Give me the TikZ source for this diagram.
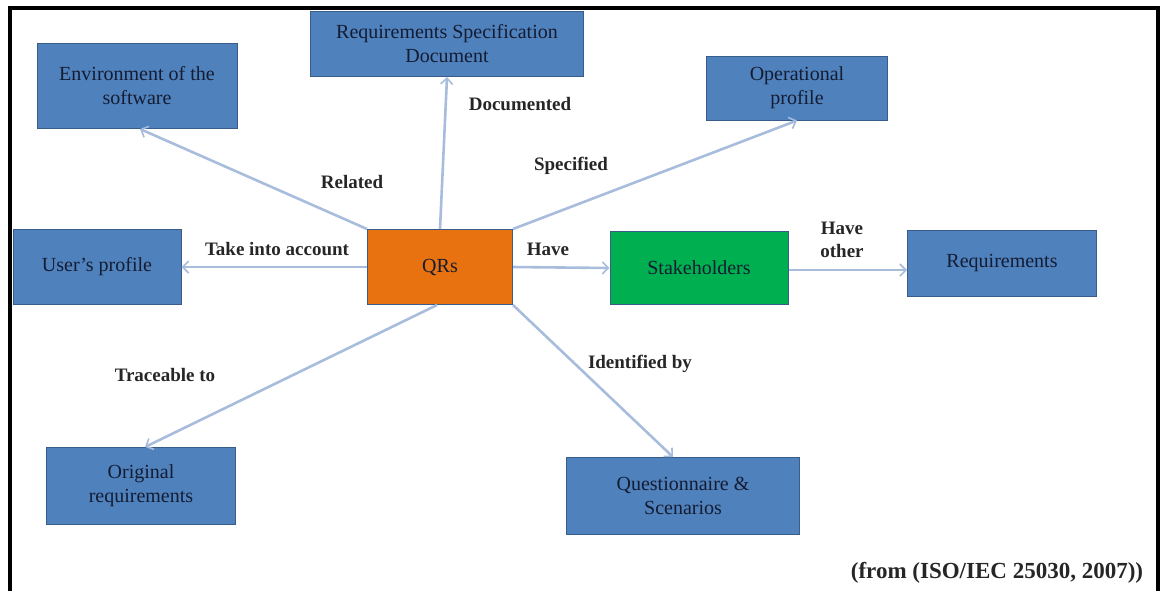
\documentclass[tikz,border=0pt]{standalone}
\usepackage{fontspec}
\setmainfont{Liberation Serif}
\usetikzlibrary{arrows.meta}
\definecolor{boxblue}{RGB}{79,129,189}
\definecolor{boxedge}{RGB}{56,93,138}
\definecolor{qrorange}{RGB}{232,113,16}
\definecolor{shgreen}{RGB}{0,176,80}
\definecolor{arrowcol}{RGB}{168,188,220}
\definecolor{boxtext}{RGB}{20,28,50}
\tikzset{
  conceptbox/.style={draw=boxedge, line width=1pt, fill=boxblue, text=boxtext,
    align=center, inner sep=2pt, font=\fontsize{20}{24}\selectfont},
  link/.style={draw=arrowcol, line width=2.6pt, -{Straight Barb[length=6pt,width=12pt,line width=1.6pt]}},
  linklabel/.style={font=\fontsize{19}{23}\selectfont\bfseries, text=black!85, align=center, inner sep=0pt},
}
\begin{document}
\begin{tikzpicture}[x=1pt,y=-1pt]
\useasboundingbox (0,0) rectangle (1167,590);
% frame
\draw[line width=4pt, black] (10,592) -- (10,8) -- (1158,8) -- (1158,592);
% nodes
\node[conceptbox, minimum width=200pt, minimum height=85pt] (env) at (137,86) {Environment of the\\software};
\node[conceptbox, minimum width=273pt, minimum height=65pt] (spec) at (447,44) {Requirements Specification\\Document};
\node[conceptbox, minimum width=181pt, minimum height=64pt] (oper) at (797,88) {Operational\\profile};
\node[conceptbox, minimum width=168pt, minimum height=75pt] (user) at (97,267) {User's profile};
\node[conceptbox, fill=qrorange, minimum width=145pt, minimum height=75pt] (qrs) at (440,267) {QRs};
\node[conceptbox, fill=shgreen, minimum width=178pt, minimum height=73pt] (stake) at (699,268) {Stakeholders};
\node[conceptbox, minimum width=189pt, minimum height=66pt] (req) at (1002,263) {Requirements};
\node[conceptbox, minimum width=189pt, minimum height=77pt] (orig) at (141,486) {Original\\requirements};
\node[conceptbox, minimum width=233pt, minimum height=77pt] (quest) at (683,496) {Questionnaire \&\\Scenarios};
% connectors
\draw[link] (qrs.north west) -- ([xshift=3pt]env.south);
\draw[link] (qrs.north) -- (spec.south);
\draw[link] (qrs.north east) -- (oper.south);
\draw[link] (qrs.west) -- (user.east);
\draw[link] (qrs.east) -- (stake.west);
\draw[link] ([yshift=-2pt]stake.east) -- ([yshift=-2pt]stake.east -| req.west);
\draw[link] ([xshift=-3pt]qrs.south) -- ([xshift=4pt]orig.north);
\draw[link] (qrs.south east) -- ([xshift=-10pt]quest.north);
% labels
\node[linklabel] (lrel) at (352,182) {Related};
\node[linklabel] (ldoc) at (520,104) {Documented};
\node[linklabel] (lspec) at (571,166) {Specified};
\node[linklabel] (ltake) at (277,249) {Take into account};
\node[linklabel] (lhave) at (548,249) {Have};
\node[linklabel] (lother) at (842,240) {Have\\other};
\node[linklabel] (ltrace) at (165,375) {Traceable to};
\node[linklabel] (lident) at (640,364) {Identified by};
\node[linklabel, font=\fontsize{23}{27}\selectfont\bfseries] (lsrc) at (997,573) {(from (ISO/IEC 25030, 2007))};
\end{tikzpicture}
\end{document}
